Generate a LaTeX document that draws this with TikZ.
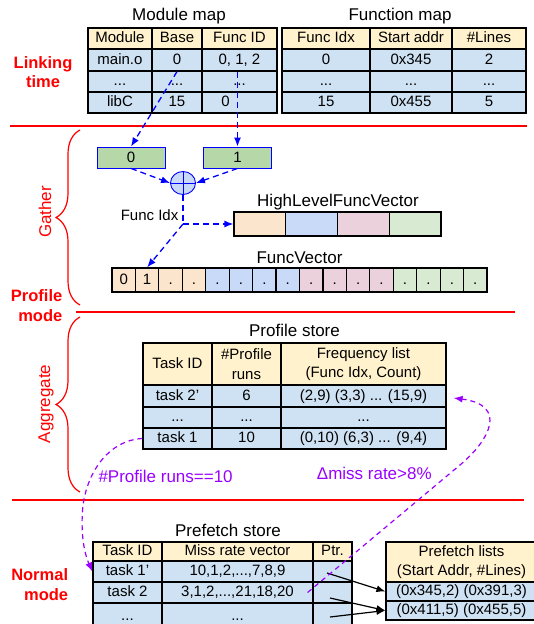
\documentclass[tikz,border=0pt]{standalone}
\usepackage{fontspec}
\setmainfont{Liberation Sans}
\usetikzlibrary{arrows.meta,shapes.geometric,decorations.pathreplacing,calc}
\definecolor{hdr}{HTML}{FFF2CC}
\definecolor{bdy}{HTML}{CFE2F3}
\definecolor{grn}{HTML}{B6D7A8}
\definecolor{opc}{HTML}{C9DAF8}
\definecolor{fvA}{HTML}{FCE5CD}
\definecolor{fvB}{HTML}{C9DAF8}
\definecolor{fvC}{HTML}{EAD1DC}
\definecolor{fvD}{HTML}{D9EAD3}
\definecolor{vio}{HTML}{9900FF}
\definecolor{lblue}{HTML}{0000FF}
\definecolor{lred}{HTML}{FF0000}
\newcommand\tabf{\fontsize{15}{19.5}\selectfont}
\newcommand\ttlf{\fontsize{17}{20}\selectfont}
\newcommand\lblf{\fontsize{16.5}{19.5}\selectfont\bfseries}
\newcommand\cellstrut{\rule[-2.5pt]{0pt}{13.7pt}}
\newcommand\mycell[7]{\node[cellbox,fill=#6,minimum width={(#4)-(#2)},minimum height={(#5)-(#3)}] (#1) at ({((#2)+(#4))/2},{((#3)+(#5))/2}) {\cellstrut#7};}
\begin{document}
\begin{tikzpicture}[x=1pt,y=-1pt,
  cellbox/.style={draw=black,line width=1.2pt,inner sep=0pt,align=center,font=\tabf},
  ttl/.style={font=\ttlf,inner sep=0pt},
  redlab/.style={font=\lblf,text=lred,inner sep=0pt},
  redtxt/.style={font=\ttlf,text=lred,inner sep=0pt},
  redline/.style={draw=lred,line width=1.8pt},
  redbrace/.style={draw=lred,line width=1.2pt,decorate,decoration={brace,amplitude=24pt}},
  gbox/.style={draw=lblue,fill=grn,line width=0.9pt,minimum width=68pt,minimum height=21pt,inner sep=0pt,font=\tabf},
  bluearrow/.style={draw=lblue,line width=1.3pt,dash pattern=on 6pt off 4pt,-{Latex[length=9pt,width=7pt]}},
  blueline/.style={draw=lblue,line width=1.3pt,dash pattern=on 6pt off 4pt},
  vioarrow/.style={draw=vio,line width=1.2pt,dash pattern=on 5pt off 4pt,-{Latex[length=9pt,width=7pt]}},
  viotxt/.style={font=\ttlf,text=vio,inner sep=0pt},
  blkarrow/.style={draw=black,line width=1.2pt,-{Latex[length=9pt,width=7pt]}}]
\path[use as bounding box] (0,0) rectangle (534,624);
\clip (0,0) rectangle (534,624);

% section separators
\draw[redline] (10,126) -- (527,126);
\draw[redline] (76,312) -- (515,312);
\draw[redline] (12,500) -- (524,500);

% phase labels
\node[redlab,align=center] (lk) at (43,72) {Linking\\time};
\node[redlab,align=right,anchor=east] (pmode) at (62.5,305.7) {Profile\\mode};
\node[redlab,align=right,anchor=east] (nmode) at (68.3,584.7) {Normal\\mode};
\node[redtxt,rotate=90,anchor=base] (gath) at (51,212) {Gather};
\node[redtxt,rotate=90,anchor=base] (aggr) at (50,404) {Aggregate};
\draw[redbrace] (80,305) -- (80,130);
\draw[redbrace] (80,492) -- (80,317);

% Module map
\node[ttl,anchor=base] (tmm) at (179,20) {Module map};
\mycell{mh1}{88}{28}{152}{49}{hdr}{Module}
\mycell{mh2}{152}{28}{202}{49}{hdr}{Base}
\mycell{mh3}{202}{28}{277}{49}{hdr}{Func ID}
\mycell{ma1}{88}{49}{152}{71}{bdy}{main.o}
\mycell{mb1}{152}{49}{202}{71}{bdy}{0}
\mycell{mf1}{202}{49}{277}{71}{bdy}{0, 1, 2}
\mycell{ma2}{88}{71}{152}{92}{bdy}{...}
\mycell{mb2}{152}{71}{202}{92}{bdy}{...}
\mycell{mf2}{202}{71}{277}{92}{bdy}{...}
\mycell{ma3}{88}{92}{152}{113}{bdy}{libC}
\mycell{mb3}{152}{92}{202}{113}{bdy}{15}
\mycell{mf3}{202}{92}{277}{113}{bdy}{0\hspace*{28pt}}

% Function map
\node[ttl,anchor=base] (tfm) at (400,20) {Function map};
\mycell{fh1}{282}{28}{370}{49}{hdr}{Func Idx}
\mycell{fh2}{370}{28}{452}{49}{hdr}{Start addr}
\mycell{fh3}{452}{28}{526}{49}{hdr}{\#Lines}
\mycell{fa1}{282}{49}{370}{71}{bdy}{0}
\mycell{fb1}{370}{49}{452}{71}{bdy}{0x345}
\mycell{fc1}{452}{49}{526}{71}{bdy}{2}
\mycell{fa2}{282}{71}{370}{92}{bdy}{...}
\mycell{fb2}{370}{71}{452}{92}{bdy}{...}
\mycell{fc2}{452}{71}{526}{92}{bdy}{...}
\mycell{fa3}{282}{92}{370}{113}{bdy}{15}
\mycell{fb3}{370}{92}{452}{113}{bdy}{0x455}
\mycell{fc3}{452}{92}{526}{113}{bdy}{5}

% Gather
\node[gbox] (g0) at (131,157.5) {0};
\node[gbox] (g1) at (237.5,157.5) {1};
\node[ellipse,draw=lblue,fill=opc,line width=0.9pt,minimum width=25pt,minimum height=23pt,inner sep=0pt] (opl) at (183,183) {};
\draw[lblue,line width=0.9pt] (opl.north) -- (opl.south) (opl.west) -- (opl.east);
\coordinate (j) at (183,224);

\node[ttl,anchor=base] (thl) at (338,206) {HighLevelFuncVector};
\foreach \i/\cc in {1/fvA,2/fvB,3/fvC,4/fvD}{
  \mycell{hl\i}{234+(\i-1)*51.75}{212}{234+\i*51.75}{236}{\cc}{}
}
\node[ttl,anchor=base] (tfv) at (299.5,263) {FuncVector};
\foreach \i/\cc/\lab in {1/fvA/0,2/fvA/1,3/fvA/.,4/fvA/.,5/fvB/.,6/fvB/.,7/fvB/.,8/fvB/.,
  9/fvC/.,10/fvC/.,11/fvC/.,12/fvC/.,13/fvD/.,14/fvD/.,15/fvD/.,16/fvD/.}{
  \mycell{fv\i}{112+(\i-1)*23.4375}{268}{112+\i*23.4375}{292}{\cc}{\lab}
}
\node[font=\tabf,inner sep=0pt,anchor=base east] (fidx) at (178.5,220) {Func Idx};

\draw[bluearrow] (mb1.south) -- (g0.north);
\draw[bluearrow] (g1.north |- mf1.south) -- (g1.north);
\draw[bluearrow] (g0.south) -- (opl.west);
\draw[bluearrow] (g1.south) -- (opl.east);
\draw[blueline] (opl.south) -- (j);
\draw[bluearrow] (j) -- (hl1.west);
\draw[bluearrow] (j) -- (fv2.north);

% Profile store
\node[ttl,anchor=base] (tps) at (294.5,336.7) {Profile store};
\mycell{sh1}{143}{343}{212}{385}{hdr}{Task ID}
\mycell{sh2}{212}{343}{281}{385}{hdr}{\#Profile\\runs}
\mycell{sh3}{281}{343}{446}{385}{hdr}{Frequency list\\(Func Idx, Count)}
\mycell{s11}{143}{385}{212}{407}{bdy}{task 2’}
\mycell{s12}{212}{385}{281}{407}{bdy}{6}
\mycell{s13}{281}{385}{446}{407}{bdy}{(2,9) (3,3) ... (15,9)}
\mycell{s21}{143}{407}{212}{428}{bdy}{...}
\mycell{s22}{212}{407}{281}{428}{bdy}{...}
\mycell{s23}{281}{407}{446}{428}{bdy}{...}
\mycell{s31}{143}{428}{212}{449}{bdy}{task 1}
\mycell{s32}{212}{428}{281}{449}{bdy}{10}
\mycell{s33}{281}{428}{446}{449}{bdy}{(0,10) (6,3) ... (9,4)}

\node[viotxt,anchor=base west] (lruns) at (98.3,482.7) {\#Profile runs==10};
\node[viotxt,anchor=base west] (lmiss) at (316.7,479) {Δmiss rate>8\%};

% Prefetch store
\node[ttl,anchor=base] (tpf) at (228,536) {Prefetch store};
\mycell{ph1}{93}{542}{162}{561}{hdr}{Task ID}
\mycell{ph2}{162}{542}{313}{561}{hdr}{Miss rate vector}
\mycell{ph3}{313}{542}{352}{561}{hdr}{Ptr.}
\mycell{pt1}{93}{561}{162}{582}{bdy}{task 1’}
\mycell{pm1}{162}{561}{313}{582}{bdy}{10,1,2,...,7,8,9}
\mycell{pp1}{313}{561}{352}{582}{bdy}{}
\mycell{pt2}{93}{582}{162}{603}{bdy}{task 2}
\mycell{pm2}{162}{582}{313}{603}{bdy}{3,1,2,...,21,18,20}
\mycell{pp2}{313}{582}{352}{603}{bdy}{}
\mycell{pt3}{93}{603}{162}{630}{bdy}{...}
\mycell{pm3}{162}{603}{313}{630}{bdy}{...}
\mycell{pp3}{313}{603}{352}{630}{bdy}{}

% Prefetch lists
\mycell{lh}{386}{542}{537}{582}{hdr}{Prefetch lists\\(Start Addr, \#Lines)}
\mycell{l1}{386}{582}{537}{601}{bdy}{(0x345,2) (0x391,3)}
\mycell{l2}{386}{601}{537}{620}{bdy}{(0x411,5) (0x455,5)}

\draw[blkarrow] ($(pp1.center)+(-5.5,1.5)$) -- (l1.west);
\draw[blkarrow] ($(pp2.center)+(-2.5,5.5)$) -- (l2.west);
\draw[blkarrow] ($(pp3.center)+(-2.5,0.5)$) -- (l2.west);

% feedback arrows
\draw[vioarrow] (s31.west) .. controls (110,440) and (88,470) .. (83,505)
  .. controls (80,535) and (85,555) .. (pt1.west);
\draw[vioarrow] ([xshift=-6pt]pm2.east) -- (460,465)
  .. controls (490,440) and (508,405) .. ([shift={(7,2)}]s13.east);
\end{tikzpicture}
\end{document}
